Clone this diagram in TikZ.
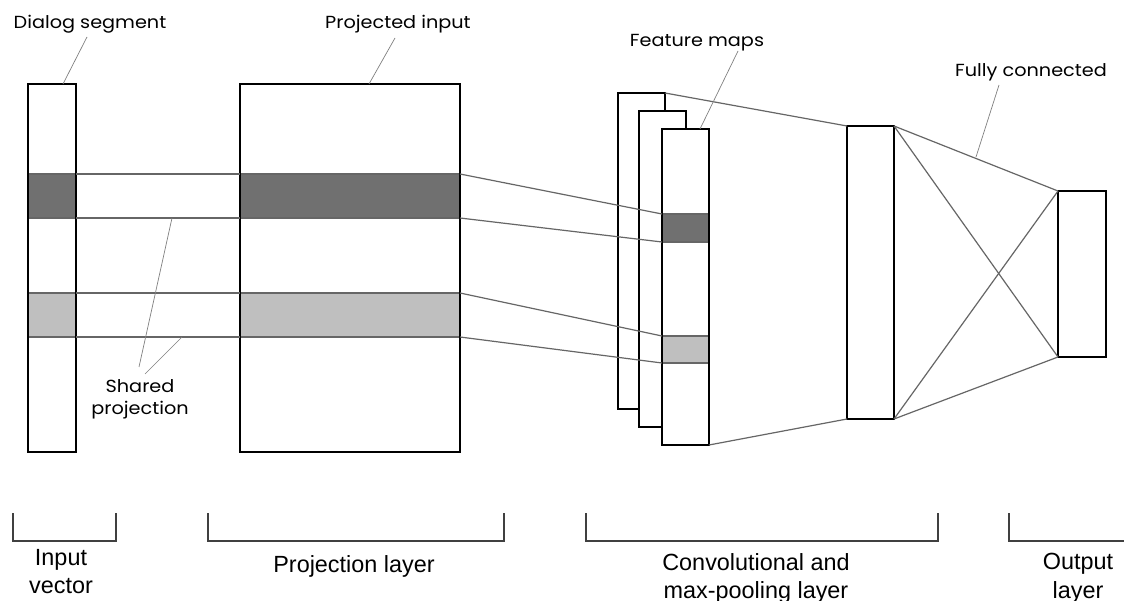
\documentclass[tikz,border=0pt]{standalone}
\usepackage{fontspec}
\setmainfont{Liberation Sans}
\newfontfamily\geo[FakeStretch=1.1]{Poppins}
\definecolor{dark}{HTML}{707070}
\definecolor{light}{HTML}{BFBFBF}
\definecolor{wire}{HTML}{666666}
\definecolor{brk}{HTML}{404040}
\begin{document}
\begin{tikzpicture}[x=1pt,y=-1pt,
  box/.style={draw=black, line width=1.3pt, inner sep=0pt, outer sep=0pt, anchor=north west},
  wbox/.style={box, fill=white},
  band/.style={draw=wire, line width=1.2pt, inner sep=0pt, outer sep=0pt, anchor=north west},
  conn/.style={draw=wire, line width=1.2pt},
  lead/.style={draw=gray, line width=0.7pt},
  toplab/.style={font=\geo\fontsize{17.5}{22}\selectfont, inner sep=0pt, anchor=base},
  botlab/.style={font=\fontsize{23.4}{28.5}\selectfont, align=center, inner sep=0pt, anchor=north},
  bracket/.style={draw=brk, line width=1.2pt}
]
\useasboundingbox (0,0) rectangle (1124,601);
\fill[white] (0,0) rectangle (1124,601);

% bands in input and projection
\node[band, fill=dark, minimum width=48, minimum height=44] (inpd) at (28,174) {};
\node[band, fill=light, minimum width=48, minimum height=44] (inpl) at (28,293) {};
\node[band, fill=dark, minimum width=220, minimum height=44] (prjd) at (240,174) {};
\node[band, fill=light, minimum width=220, minimum height=44] (prjl) at (240,293) {};

% input vector and projection boxes
\node[box, minimum width=48, minimum height=368] (inp) at (28,84) {};
\node[box, minimum width=220, minimum height=368] (prj) at (240,84) {};

% shared projection connectors
\draw[conn] (inpd.north east) -- (prjd.north west);
\draw[conn] (inpd.south east) -- (prjd.south west);
\draw[conn] (inpl.north east) -- (prjl.north west);
\draw[conn] (inpl.south east) -- (prjl.south west);

% feature maps
\node[wbox, minimum width=47, minimum height=316] (fm1) at (618,93) {};
\node[wbox, minimum width=47, minimum height=316] (fm2) at (639,111) {};
\node[wbox, minimum width=47, minimum height=316] (fm3) at (662,129) {};
\node[band, fill=dark, minimum width=47, minimum height=28] (fmd) at (662,214) {};
\node[band, fill=light, minimum width=47, minimum height=27] (fml) at (662,336) {};
\draw[line width=1.3pt] (fm3.north west) rectangle (fm3.south east);

% projection -> feature map
\draw[conn] (prjd.north east) -- (fmd.north west);
\draw[conn] (prjd.south east) -- (fmd.south west);
\draw[conn] (prjl.north east) -- (fml.north west);
\draw[conn] (prjl.south east) -- (fml.south west);

% pooling and output
\node[box, minimum width=47, minimum height=293] (pool) at (847,126) {};
\node[box, minimum width=48, minimum height=166] (out) at (1058,191) {};

\draw[conn] (fm1.north east) -- (pool.north west);
\draw[conn] (fm3.south east) -- (pool.south west);
\draw[conn] (pool.north east) -- (out.north west);
\draw[conn] (pool.north east) -- (out.south west);
\draw[conn] (pool.south east) -- (out.north west);
\draw[conn] (pool.south east) -- (out.south west);

% top labels and leaders
\node[toplab] (ldialog) at (90,29) {Dialog segment};
\node[toplab] (lproj) at (398,29) {Projected input};
\node[toplab] (lfeat) at (697,47) {Feature maps};
\node[toplab] (lfull) at (1031,77) {Fully connected};
\node[toplab, anchor=north, align=center, font=\geo\fontsize{17.5}{22}\selectfont] (lshared) at (140,379) {Shared\\projection};

\coordinate (a1) at (87,37);  \coordinate (a2) at (63,84);
\coordinate (b1) at (395,38); \coordinate (b2) at (369,84);
\coordinate (c1) at (738,51); \coordinate (c2) at (700,129);
\coordinate (d1) at (999,85); \coordinate (d2) at (976,157);
\coordinate (e1) at (139,367); \coordinate (e2) at (172,218);
\coordinate (f1) at (145,374); \coordinate (f2) at (182,337);
\draw[lead] (a1) -- (a2);
\draw[lead] (b1) -- (b2);
\draw[lead] (c1) -- (c2);
\draw[lead] (d1) -- (d2);
\draw[lead] (e1) -- (e2);
\draw[lead] (f1) -- (f2);

% brackets
\coordinate (g1) at (13,513);  \coordinate (g2) at (116,541);
\coordinate (h1) at (208,513); \coordinate (h2) at (504,541);
\coordinate (i1) at (586,513); \coordinate (i2) at (938,541);
\coordinate (j1) at (1009,513); \coordinate (j2) at (1124,541);
\draw[bracket] (g1) |- (g2) -- (g2 |- g1);
\draw[bracket] (h1) |- (h2) -- (h2 |- h1);
\draw[bracket] (i1) |- (i2) -- (i2 |- i1);
\draw[bracket] (j1) |- (j2);

% bottom labels
\node[botlab] (linp) at (61,549) {Input\\vector};
\node[botlab] (lprl) at (354,555) {Projection layer};
\node[botlab] (lconv) at (756,553) {Convolutional and\\max-pooling layer};
\node[botlab] (lout) at (1078,553) {Output\\layer};
\end{tikzpicture}
\end{document}
